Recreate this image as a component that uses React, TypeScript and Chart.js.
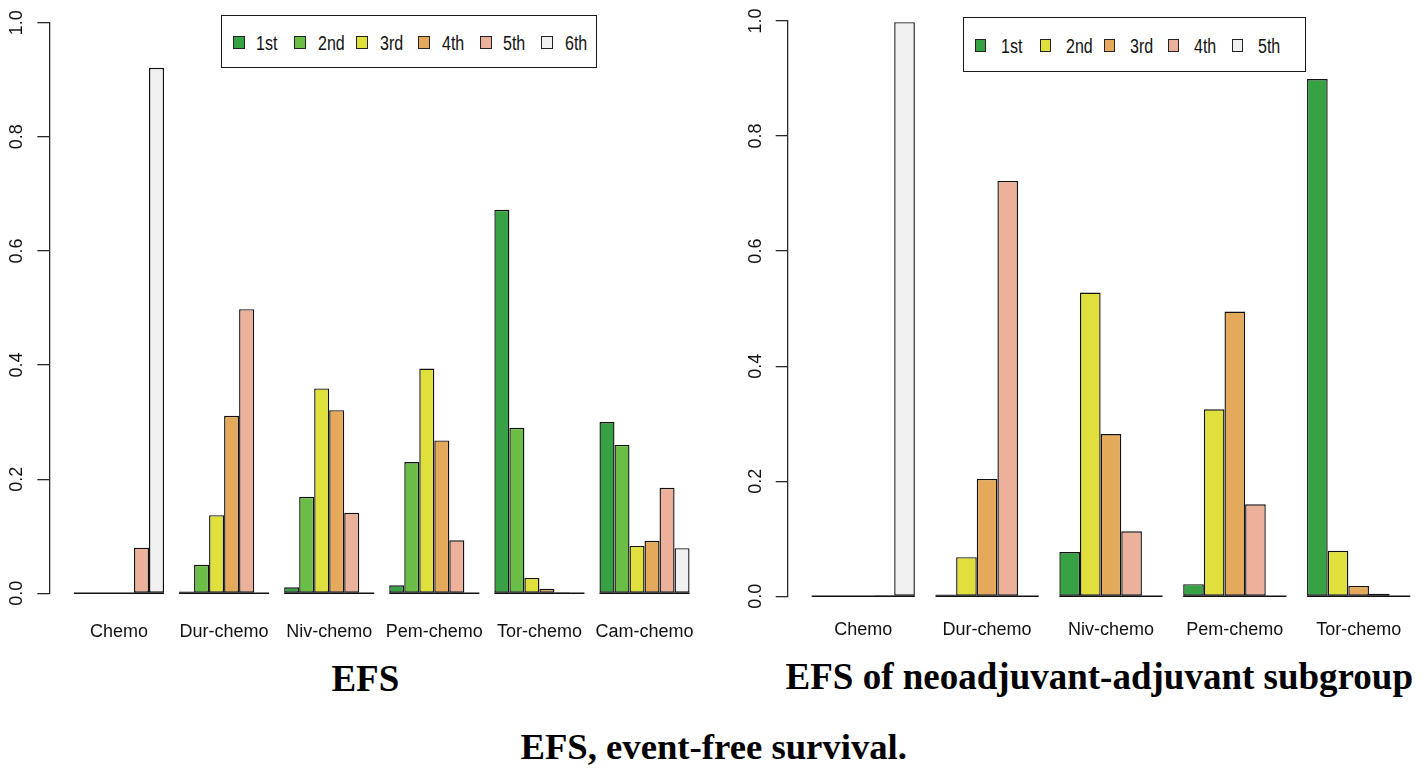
import React, { useEffect, useRef } from 'react'
import { Chart, registerables } from 'chart.js'

Chart.register(...registerables)

// EFS (all patients): probability of each rank per regimen
const efsCategories = ['Chemo', 'Dur-chemo', 'Niv-chemo', 'Pem-chemo', 'Tor-chemo', 'Cam-chemo']
const efsRanks = ['1st', '2nd', '3rd', '4th', '5th', '6th']
const efsRank1 = [0, 0.003, 0.0105, 0.014, 0.672, 0.3]
const efsRank2 = [0, 0.05, 0.169, 0.23, 0.29, 0.26]
const efsRank3 = [0, 0.137, 0.359, 0.394, 0.027, 0.083]
const efsRank4 = [0.001, 0.311, 0.321, 0.268, 0.008, 0.092]
const efsRank5 = [0.08, 0.498, 0.141, 0.093, 0.002, 0.185]
const efsRank6 = [0.921, 0, 0, 0, 0, 0.079]

// EFS of the neoadjuvant-adjuvant subgroup
const subCategories = ['Chemo', 'Dur-chemo', 'Niv-chemo', 'Pem-chemo', 'Tor-chemo']
const subRanks = ['1st', '2nd', '3rd', '4th', '5th']
const subRank1 = [0, 0.003, 0.077, 0.021, 0.899]
const subRank2 = [0, 0.068, 0.528, 0.325, 0.079]
const subRank3 = [0, 0.204, 0.282, 0.495, 0.018]
const subRank4 = [0.002, 0.722, 0.113, 0.16, 0.0045]
const subRank5 = [0.998, 0, 0, 0, 0]

const yTicks = [0, 0.2, 0.4, 0.6, 0.8, 1.0]

const DARK_GREEN = '#37a243'
const GREEN = '#6bbe45'
const YELLOW = '#dfe03c'
const TAN = '#e4a95b'
const SALMON = '#ecb19b'
const GREY = '#f0f0f0'
const AXIS = '#2a2a2a'
const EDGE = '#111'

const efsColors = [DARK_GREEN, GREEN, YELLOW, TAN, SALMON, GREY]
const subColors = [DARK_GREEN, YELLOW, TAN, SALMON, GREY]

const SANS = '"Liberation Sans", Arial, sans-serif'
const SERIF = '"Liberation Serif", "Times New Roman", serif'

// R draws zero-height bars as a flat line; draw that line under every group
const groupBaseline = {
  id: 'groupBaseline',
  afterDatasetsDraw(chart: Chart) {
    const n = chart.data.datasets.length
    if (!n) return
    const first = chart.getDatasetMeta(0).data
    const last = chart.getDatasetMeta(n - 1).data
    const y = chart.scales.y.getPixelForValue(0)
    const ctx = chart.ctx
    ctx.save()
    ctx.strokeStyle = EDGE
    ctx.lineWidth = 1.4
    first.forEach((bar, i) => {
      const a = bar.getProps(['x', 'width'], true) as any
      const b = last[i].getProps(['x', 'width'], true) as any
      ctx.beginPath()
      ctx.moveTo(a.x - a.width / 2, y)
      ctx.lineTo(b.x + b.width / 2, y)
      ctx.stroke()
    })
    ctx.restore()
  },
}

interface RankChartProps {
  categories: string[]
  ranks: string[]
  values: number[][]
  colors: string[]
  left: number
  width: number
  height: number
  axisWidth: number
  padTop: number
  padRight: number
  bottomHeight: number
  xMin: number
  xMax: number
  labelPad: number
}

const RankChart: React.FC<RankChartProps> = (props) => {
  const canvasRef = useRef<HTMLCanvasElement>(null)

  useEffect(() => {
    const canvas = canvasRef.current
    if (!canvas) return
    const { categories, ranks, values, colors } = props

    const chart = new Chart(canvas, {
      type: 'bar',
      data: {
        datasets: ranks.map((rank, r) => ({
          label: rank,
          data: categories.map((_, i) => ({ x: i, y: values[r][i] })),
          backgroundColor: colors[r],
          borderColor: EDGE,
          borderWidth: 1.4,
          borderSkipped: false,
          categoryPercentage: ranks.length / (ranks.length + 1),
          barPercentage: 1,
        })),
      },
      options: {
        animation: false,
        responsive: false,
        events: [],
        layout: { padding: { top: props.padTop, right: props.padRight, left: 0, bottom: 0 } },
        plugins: {
          legend: { display: false },
          tooltip: { enabled: false },
        },
        scales: {
          x: {
            type: 'linear',
            min: props.xMin,
            max: props.xMax,
            offset: false,
            grid: { display: false, drawTicks: false },
            border: { display: false },
            afterBuildTicks: (scale: any) => {
              scale.ticks = categories.map((_, i) => ({ value: i }))
            },
            afterFit: (scale: any) => {
              scale.height = props.bottomHeight
            },
            ticks: {
              autoSkip: false,
              minRotation: 0,
              maxRotation: 0,
              padding: props.labelPad,
              color: '#111',
              font: { family: SANS, size: 18 },
              callback: (v: any) => categories[Number(v)] ?? '',
            },
          },
          y: {
            min: 0,
            max: 1,
            afterBuildTicks: (scale: any) => {
              scale.ticks = yTicks.map((value) => ({ value }))
            },
            afterFit: (scale: any) => {
              scale.width = props.axisWidth
            },
            grid: {
              drawOnChartArea: false,
              drawTicks: true,
              tickLength: 12,
              color: AXIS,
              lineWidth: 1.3,
            },
            border: { display: true, color: AXIS, width: 1.3 },
            ticks: {
              minRotation: 90,
              maxRotation: 90,
              crossAlign: 'center',
              padding: 7.6,
              color: '#111',
              font: { family: SANS, size: 18 },
              callback: (v: any) => Number(v).toFixed(1),
            },
          },
        },
      },
      plugins: [groupBaseline],
    })

    return () => {
      chart.destroy()
    }
    // eslint-disable-next-line react-hooks/exhaustive-deps
  }, [])

  return (
    <canvas
      ref={canvasRef}
      width={props.width}
      height={props.height}
      style={{ position: 'absolute', left: props.left, top: 0, width: props.width, height: props.height }}
    />
  )
}

interface LegendProps {
  ranks: string[]
  colors: string[]
  left: number
  top: number
  width: number
  height: number
  padLeft: number
  pitch: number
  squareW: number
  gap: number
}

// no narrow face is installed, so the legend text is squeezed like R's pdf output
const RankLegend: React.FC<LegendProps> = (p) => (
  <div
    style={{
      position: 'absolute',
      left: p.left,
      top: p.top,
      width: p.width,
      height: p.height,
      boxSizing: 'border-box',
      border: '1.6px solid #1a1a1a',
      background: '#fff',
      display: 'flex',
      alignItems: 'center',
      paddingLeft: p.padLeft,
      paddingTop: 2,
    }}
  >
    {p.ranks.map((rank, i) => (
      <div
        key={rank}
        style={{
          display: 'flex',
          alignItems: 'center',
          flex: 'none',
          width: i < p.ranks.length - 1 ? p.pitch : 'auto',
        }}
      >
        <span
          style={{
            display: 'inline-block',
            flex: 'none',
            width: p.squareW,
            height: 13,
            boxSizing: 'border-box',
            border: '1.2px solid #222',
            background: p.colors[i],
            marginRight: p.gap,
          }}
        />
        <span
          style={{
            display: 'inline-block',
            font: `20px ${SANS}`,
            color: '#111',
            lineHeight: 1,
            transform: 'scaleX(0.8)',
            transformOrigin: 'left center',
          }}
        >
          {rank}
        </span>
      </div>
    ))}
  </div>
)

const titleStyle = (center: number, top: number, size: number): React.CSSProperties => ({
  position: 'absolute',
  left: center - 450,
  width: 900,
  top,
  textAlign: 'center',
  font: `bold ${size}px ${SERIF}`,
  lineHeight: `${size}px`,
  color: '#000',
  whiteSpace: 'nowrap',
})

export default function App() {
  return (
    <div
      style={{
        position: 'fixed',
        left: 0,
        top: 0,
        width: 1423,
        height: 776,
        overflow: 'hidden',
        background: '#fff',
      }}
    >
      <RankChart
        categories={efsCategories}
        ranks={efsRanks}
        values={[efsRank1, efsRank2, efsRank3, efsRank4, efsRank5, efsRank6]}
        colors={efsColors}
        left={0}
        width={730}
        height={650}
        axisWidth={49.3}
        padTop={22.7}
        padRight={15.8}
        bottomHeight={56.7}
        xMin={-0.663}
        xMax={5.663}
        labelPad={27.5}
      />
      <RankChart
        categories={subCategories}
        ranks={subRanks}
        values={[subRank1, subRank2, subRank3, subRank4, subRank5]}
        colors={subColors}
        left={730}
        width={710}
        height={650}
        axisWidth={57.7}
        padTop={21}
        padRight={5.8}
        bottomHeight={53.7}
        xMin={-0.61}
        xMax={4.61}
        labelPad={23.4}
      />
      <RankLegend
        ranks={efsRanks}
        colors={efsColors}
        left={221}
        top={15}
        width={376}
        height={53}
        padLeft={10.5}
        pitch={61.8}
        squareW={12}
        gap={11.7}
      />
      <RankLegend
        ranks={subRanks}
        colors={subColors}
        left={962.7}
        top={17.3}
        width={343.7}
        height={55}
        padLeft={11.8}
        pitch={64.2}
        squareW={11}
        gap={15}
      />
      <div style={titleStyle(365.3, 659.7, 37)}>EFS</div>
      <div style={titleStyle(1099.3, 658.3, 37)}>EFS of neoadjuvant-adjuvant subgroup</div>
      <div style={titleStyle(713.7, 729.3, 36.7)}>EFS, event-free survival.</div>
    </div>
  )
}
